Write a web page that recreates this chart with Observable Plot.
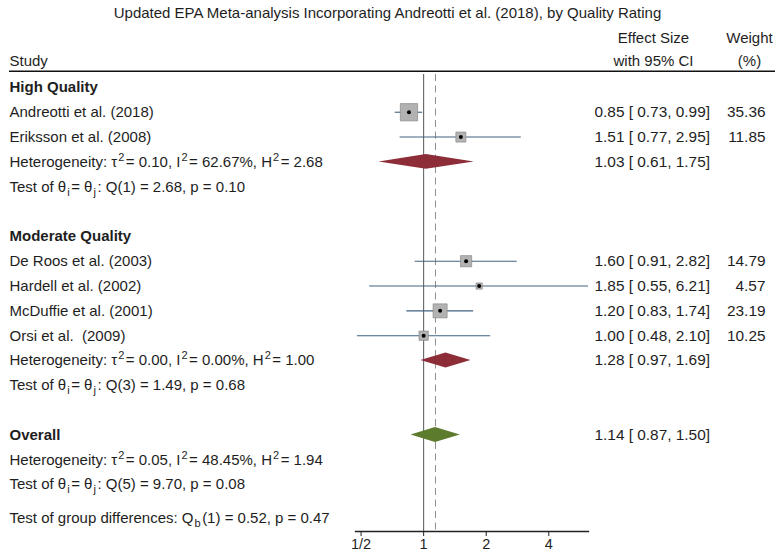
<!DOCTYPE html>
<html>
<head>
<meta charset="utf-8">
<script src="https://cdn.jsdelivr.net/npm/d3@7"></script>
<script src="https://cdn.jsdelivr.net/npm/@observablehq/plot@0.6"></script>
<style>
  body { margin: 0; background: #fff; }
  #chart svg { display: block; }
</style>
</head>
<body>
<div id="chart"></div>
<script>
// ---------- data ----------
const titleText = "Updated EPA Meta-analysis Incorporating Andreotti et al. (2018), by Quality Rating";

const studies = ["Andreotti et al. (2018)", "Eriksson et al. (2008)", "De Roos et al. (2003)", "Hardell et al. (2002)", "McDuffie et al. (2001)", "Orsi et al.  (2009)"];
const studyRows = [1, 2, 7, 8, 9, 10];
const estimates = [0.85, 1.51, 1.60, 1.85, 1.20, 1.00];
const lowerCI = [0.73, 0.77, 0.91, 0.55, 0.83, 0.48];
const upperCI = [0.99, 2.95, 2.82, 6.21, 1.74, 2.10];
const weights = [35.36, 11.85, 14.79, 4.57, 23.19, 10.25];

const groupLabels = ["High Quality", "Moderate Quality", "Overall"];
const groupHeaderRows = [0, 6, 14];

const pooledRows = [3, 11, 14];
const pooledEst = [1.03, 1.28, 1.14];
const pooledLower = [0.61, 0.97, 0.87];
const pooledUpper = [1.75, 1.69, 1.50];
const pooledColors = ["#8c2d37", "#8c2d37", "#5d7b2d"];

const hetTexts = [
  "Heterogeneity: τ^2= 0.10, I^2= 62.67%, H^2= 2.68",
  "Heterogeneity: τ^2= 0.00, I^2= 0.00%, H^2= 1.00",
  "Heterogeneity: τ^2= 0.05, I^2= 48.45%, H^2= 1.94"
];
const hetRows = [3, 11, 15];
const testTexts = [
  "Test of θ_i= θ_j: Q(1) = 2.68, p = 0.10",
  "Test of θ_i= θ_j: Q(3) = 1.49, p = 0.68",
  "Test of θ_i= θ_j: Q(5) = 9.70, p = 0.08"
];
const testRows = [4, 12, 16];
const groupDiffText = "Test of group differences: Q_b(1) = 0.52, p = 0.47";
const groupDiffRow = 17.35;

const overallEstimate = 1.14;
const xDomain = [0.47, 6.21];
const tickValues = [0.5, 1, 2, 4];
const tickLabels = ["1/2", "1", "2", "4"];

// header rows (row units)
const titleRow = -2.98;
const headerRow1 = -1.97;
const headerRow2 = -1.05;
const headerRuleRow = -0.65;

// ---------- tables ----------
const fmt = v => v.toFixed(2);
const studyData = studies.map((s, i) => ({
  study: s, row: studyRows[i], est: estimates[i], lo: lowerCI[i], hi: upperCI[i], w: weights[i],
  es: `${fmt(estimates[i])} [ ${fmt(lowerCI[i])}, ${fmt(upperCI[i])}]`, wt: fmt(weights[i])
}));
const pooledData = pooledRows.map((r, i) => ({
  row: r, est: pooledEst[i], lo: pooledLower[i], hi: pooledUpper[i], color: pooledColors[i],
  es: `${fmt(pooledEst[i])} [ ${fmt(pooledLower[i])}, ${fmt(pooledUpper[i])}]`
}));
const diamondHalf = 0.3;
const diamondData = pooledData.flatMap((d, i) => [
  {g: i, y: d.row - diamondHalf, x1: d.est, x2: d.est, color: d.color},
  {g: i, y: d.row, x1: d.lo, x2: d.hi, color: d.color},
  {g: i, y: d.row + diamondHalf, x1: d.est, x2: d.est, color: d.color}
]);

const leftPlain = [
  {text: "Study", row: headerRow2},
  ...studyData.map(d => ({text: d.study, row: d.row})),
  ...hetTexts.map((t, i) => ({text: t, row: hetRows[i]})),
  ...testTexts.map((t, i) => ({text: t, row: testRows[i]})),
  {text: groupDiffText, row: groupDiffRow}
];
const leftBold = groupLabels.map((t, i) => ({text: t, row: groupHeaderRows[i]}));
const effectRows = [...studyData.map(d => ({text: d.es, row: d.row})), ...pooledData.map(d => ({text: d.es, row: d.row}))];
const weightRows = studyData.map(d => ({text: d.wt, row: d.row}));
const effectHeader = [{text: "Effect Size", row: headerRow1}, {text: "with 95% CI", row: headerRow2}];
const weightHeader = [{text: "Weight", row: headerRow1}, {text: "(%)", row: headerRow2}];

// ---------- plot ----------
const W = 775, H = 555, ML = 355, MR = 187;
const txt = "#1e1e1e";
const plot = Plot.plot({
  width: W, height: H,
  marginLeft: ML, marginRight: MR, marginTop: 73, marginBottom: 24,
  style: {fontFamily: "'Liberation Sans', Arial, Helvetica, sans-serif", fontSize: "15px", background: "#fff", color: txt},
  x: {type: "log", base: 2, domain: xDomain},
  y: {domain: [0, 17], range: [86.9, 509], axis: null},
  r: {type: "sqrt", domain: [0, d3.max(weights)], range: [0, 17.3 / Math.sqrt(Math.PI)]},
  color: {type: "identity"},
  marks: [
    // title
    Plot.text([titleText], {text: d => d, y: () => titleRow, frameAnchor: "left", dx: 387 - ML, textAnchor: "middle", fill: txt, fontSize: 15}),
    // header rule
    Plot.ruleY([headerRuleRow], {stroke: "#111", strokeWidth: 1.6, insetLeft: 9 - ML, insetRight: -MR}),
    // reference lines
    Plot.ruleX([1], {stroke: "#555", strokeWidth: 1, insetTop: 1}),
    Plot.ruleX([overallEstimate], {stroke: "#8e8e8e", strokeWidth: 1, strokeDasharray: "7,4.5", insetTop: 1}),
    // CI lines
    Plot.ruleY(studyData, {y: "row", x1: "lo", x2: "hi", stroke: "#42637f", strokeWidth: 1.1}),
    // weight squares
    Plot.dot(studyData, {x: "est", y: "row", r: "w", symbol: "square", fill: "#b2b2b2", stroke: "#8a8a8a", strokeWidth: 0.7}),
    Plot.dot(studyData, {x: "est", y: "row", r: 2, fill: "#000"}),
    // pooled diamonds
    Plot.areaX(diamondData, {y: "y", x1: "x1", x2: "x2", z: "g", fill: "color", curve: "linear"}),
    // axis
    Plot.frame({anchor: "bottom", stroke: "#222", strokeWidth: 1.3}),
    Plot.axisX({ticks: tickValues, tickFormat: d => tickLabels[tickValues.indexOf(d)], tickSize: 5, tickPadding: 2, fontSize: 14.5, stroke: "#222", fill: txt, label: null}),
    // left text column
    Plot.text(leftPlain, {text: "text", y: "row", frameAnchor: "left", dx: 9 - ML, textAnchor: "start", fill: txt}),
    Plot.text(leftBold, {text: "text", y: "row", frameAnchor: "left", dx: 9 - ML, textAnchor: "start", fill: txt, fontWeight: "bold"}),
    // right columns
    Plot.text(effectRows, {text: "text", y: "row", frameAnchor: "right", dx: 594 - (W - MR), textAnchor: "start", fill: txt, fontSize: 15.4}),
    Plot.text(weightRows, {text: "text", y: "row", frameAnchor: "right", dx: 765 - (W - MR), textAnchor: "end", fill: txt, fontSize: 15.4}),
    Plot.text(effectHeader, {text: "text", y: "row", frameAnchor: "right", dx: 653 - (W - MR), textAnchor: "middle", fill: txt}),
    Plot.text(weightHeader, {text: "text", y: "row", frameAnchor: "right", dx: 749 - (W - MR), textAnchor: "middle", fill: txt})
  ]
});

// superscripts (^x) and subscripts (_x) as tspans
d3.select(plot).selectAll("text").each(function () {
  const s = this.textContent;
  if (!/[\^_]/.test(s)) return;
  const el = d3.select(this);
  el.text(null);
  const re = /([\^_])(.)/g;
  let last = 0, m, pending = 0;
  const add = (t, dy, size, dx) => {
    const sp = el.append("tspan").text(t);
    if (dy) sp.attr("dy", dy);
    if (dx) sp.attr("dx", dx);
    if (size) sp.attr("font-size", size);
  };
  while ((m = re.exec(s))) {
    if (m.index > last) { add(s.slice(last, m.index), -pending, null, pending ? 1.5 : 0); pending = 0; }
    const off = m[1] === "^" ? -6 : 4;
    add(m[2], off - pending, 11, 1);
    pending = off;
    last = re.lastIndex;
  }
  if (last < s.length) add(s.slice(last), -pending, null, 1.5);
});

document.getElementById("chart").append(plot);
</script>
</body>
</html>
